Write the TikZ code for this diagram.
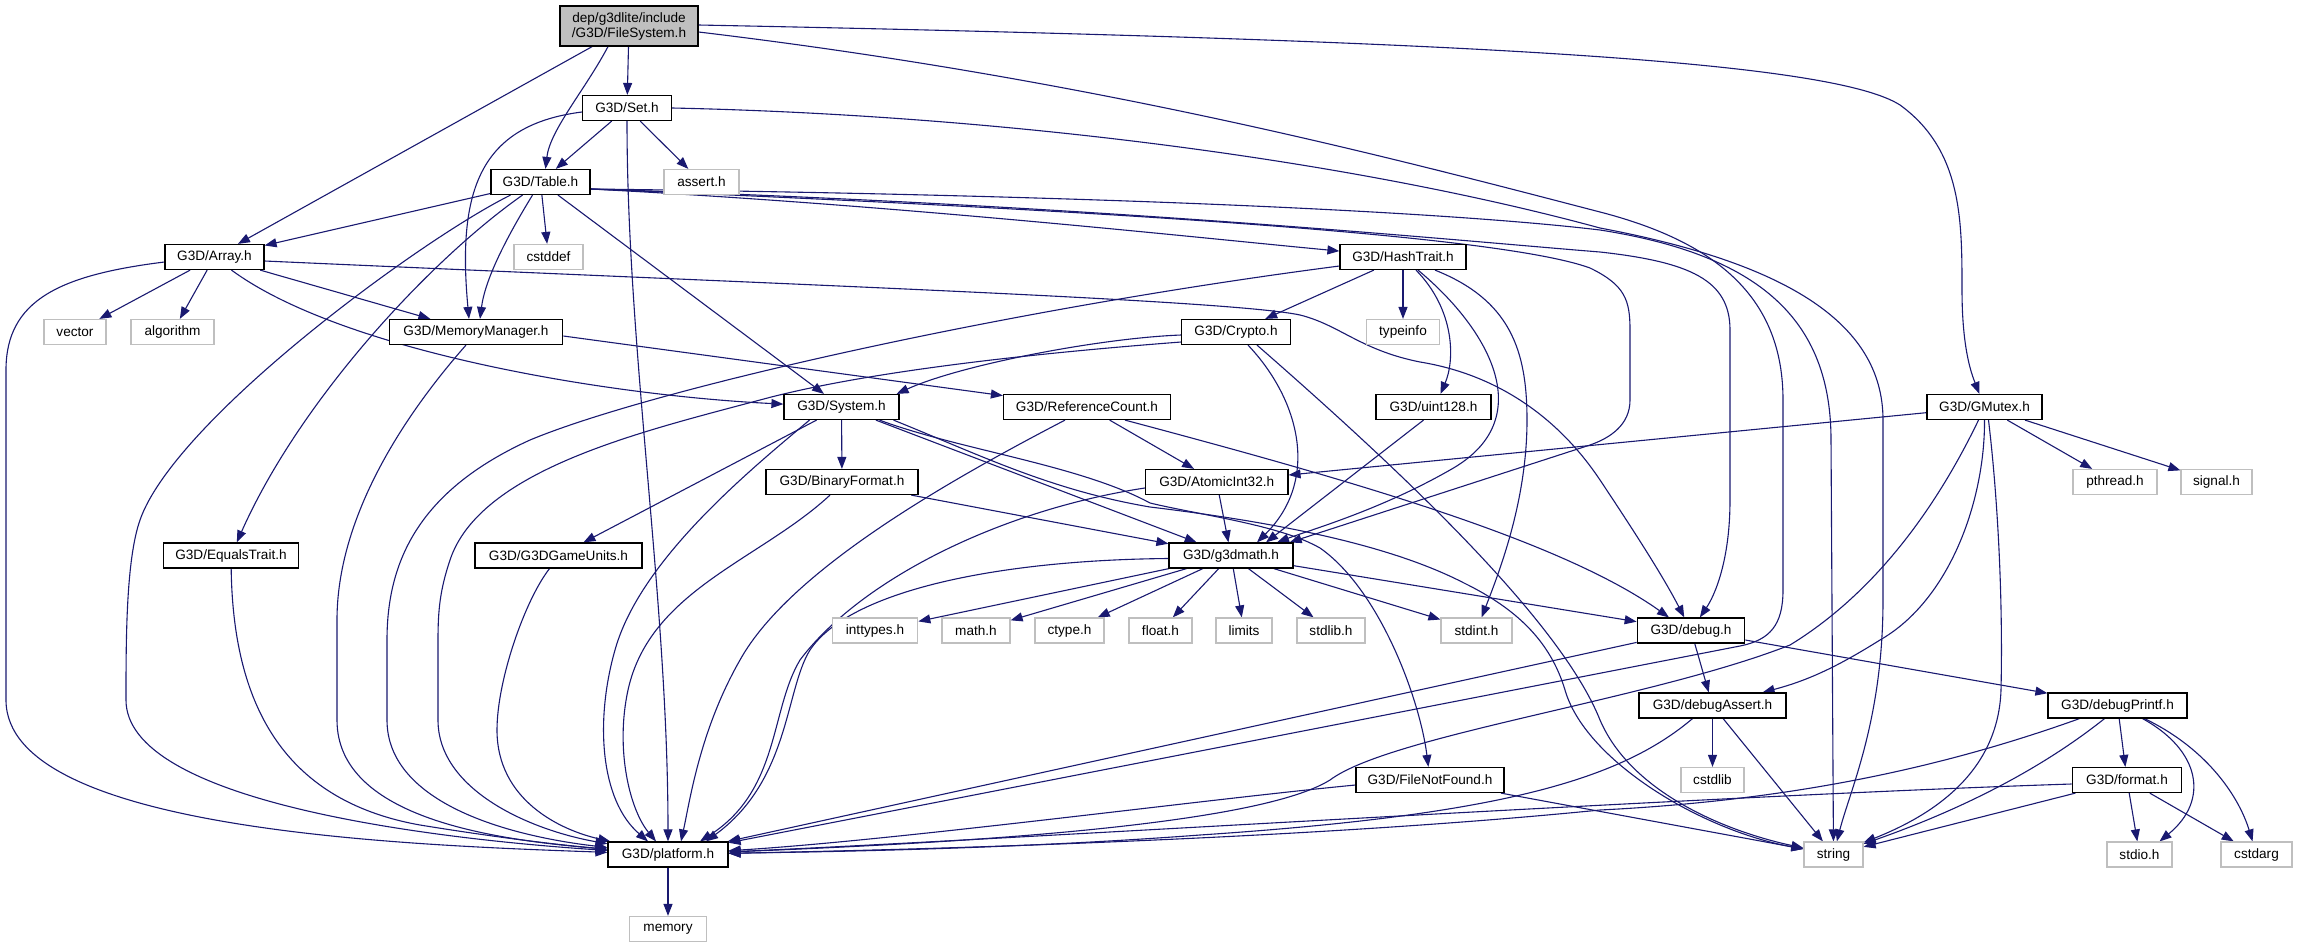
\documentclass[tikz,border=0pt]{standalone}
\usepackage{fontspec}
\setmainfont{Liberation Sans}
\usetikzlibrary{arrows.meta,backgrounds}
\definecolor{edgeblue}{HTML}{191970}
\definecolor{extgray}{HTML}{BFBFBF}
\definecolor{rootgray}{HTML}{BFBFBF}
\newcommand\gfont{\fontsize{13.6}{15}\selectfont}
\tikzset{
  doc/.style={draw=black, line width=1.2pt, fill=white, minimum height=25pt, inner sep=0pt, font=\gfont},
  ext/.style={draw=extgray, line width=1.2pt, fill=white, minimum height=25pt, inner sep=0pt, font=\gfont},
  e/.style={draw=edgeblue, line width=1.1pt, -{Triangle[length=12pt,width=9pt]}},
}
\begin{document}
\begin{tikzpicture}[x=1pt,y=-1pt]
\path[use as bounding box] (0,0) rectangle (2297,948);
% nodes
\node[doc, fill=rootgray, minimum height=40pt, align=center, minimum width=138pt] (fs) at (629,26) {dep/g3dlite/include\\/G3D/FileSystem.h};
\node[doc, minimum width=89pt] (set) at (627,108) {G3D/Set.h};
\node[ext, minimum width=75pt] (assert) at (701.5,182) {assert.h};
\node[doc, minimum width=99pt] (table) at (540.5,182) {G3D/Table.h};
\node[ext, minimum width=69pt] (cstddef) at (548.5,257) {cstddef};
\node[doc, minimum width=99pt] (array) at (214.5,257) {G3D/Array.h};
\node[ext, minimum width=62pt] (vector) at (75,332) {vector};
\node[ext, minimum width=83pt] (algorithm) at (172.5,332) {algorithm};
\node[doc, minimum width=173.5pt] (memmgr) at (476,332) {G3D/MemoryManager.h};
\node[doc, minimum width=126pt] (hash) at (1403,257) {G3D/HashTrait.h};
\node[doc, minimum width=108.5pt] (crypto) at (1236,332) {G3D/Crypto.h};
\node[ext, minimum width=73pt] (typeinfo) at (1403,332) {typeinfo};
\node[doc, minimum width=115pt] (uint) at (1433.5,407) {G3D/uint128.h};
\node[doc, minimum width=115pt] (system) at (841.5,407) {G3D/System.h};
\node[doc, minimum width=167pt] (refc) at (1087,407) {G3D/ReferenceCount.h};
\node[doc, minimum width=115pt] (gmutex) at (1984.5,407) {G3D/GMutex.h};
\node[ext, minimum width=84pt] (pthread) at (2115,482) {pthread.h};
\node[ext, minimum width=71pt] (signal) at (2216.5,482) {signal.h};
\node[doc, minimum width=142.5pt] (atomic) at (1216.7,482) {G3D/AtomicInt32.h};
\node[doc, minimum width=152pt] (binfmt) at (842,482) {G3D/BinaryFormat.h};
\node[doc, minimum width=167pt] (gameunits) at (558.5,555.5) {G3D/G3DGameUnits.h};
\node[doc, minimum width=135.5pt] (equals) at (231,555.5) {G3D/EqualsTrait.h};
\node[doc, minimum width=124pt] (g3dmath) at (1231,555.5) {G3D/g3dmath.h};
\node[ext, minimum width=85.5pt] (inttypes) at (875,630.5) {inttypes.h};
\node[ext, minimum width=68pt] (mathh) at (976,630.5) {math.h};
\node[ext, minimum width=69pt] (ctype) at (1069.5,630.5) {ctype.h};
\node[ext, minimum width=63pt] (floath) at (1160.5,630.5) {float.h};
\node[ext, minimum width=56pt] (limits) at (1244,630.5) {limits};
\node[ext, minimum width=68pt] (stdlibh) at (1331,630.5) {stdlib.h};
\node[ext, minimum width=71pt] (stdint) at (1476.5,630.5) {stdint.h};
\node[doc, minimum width=107.5pt] (debug) at (1691,630.5) {G3D/debug.h};
\node[doc, minimum width=147pt] (dassert) at (1712.5,705.5) {G3D/debugAssert.h};
\node[doc, minimum width=139pt] (dprintf) at (2117.5,705.5) {G3D/debugPrintf.h};
\node[ext, minimum width=63pt] (cstdlib) at (1712.5,780) {cstdlib};
\node[doc, minimum width=148pt] (filenf) at (1430,780) {G3D/FileNotFound.h};
\node[doc, minimum width=109.5pt] (format) at (2127,780) {G3D/format.h};
\node[doc, minimum width=120pt] (platform) at (668,854.5) {G3D/platform.h};
\node[ext, minimum width=76.5pt] (memory) at (668,929) {memory};
\node[ext, minimum width=59pt] (string) at (1833.5,854.5) {string};
\node[ext, minimum width=65pt] (stdio) at (2139.5,854.5) {stdio.h};
\node[ext, minimum width=71pt] (cstdarg) at (2256.5,854.5) {cstdarg};

\begin{scope}[on background layer]
% FileSystem.h
\draw[e] (fs) -- (array);
\draw[e] ([xshift=-21pt]fs.south) .. controls (585,90) and (550,130) .. ([xshift=5pt]table.north);
\draw[e] (fs) -- (set);
\draw[e] ([yshift=1pt]fs.east) .. controls (1450,40) and (1830,60) .. (1900,105) .. controls (1962,150) and (1962,220) .. (1962,290) .. controls (1962,350) and (1972,375) .. (gmutex);
\draw[e] ([yshift=-6pt]fs.east) .. controls (1100,80) and (1400,160) .. (1600,212) .. controls (1720,243) and (1783,300) .. (1783,400) -- (1783,590) .. controls (1783,625) and (1770,640) .. (1740,646) -- (platform);
% Set.h
\draw[e] (set) -- (table);
\draw[e] (set) -- (assert);
\draw[e] ([yshift=-4pt]set.west) .. controls (480,125) and (457,190) .. ([xshift=-7pt]memmgr.north);
\draw[e] (set.south) .. controls (627,350) and (668,600) .. (platform.north);
\draw[e] (set.east) .. controls (1000,115) and (1350,160) .. (1600,228) .. controls (1780,262) and (1883,320) .. (1883,420) -- (1883,600) .. controls (1883,720) and (1850,790) .. (string);
% Table.h
\draw[e] (table) -- (array);
\draw[e] ([xshift=-30pt]table.south) .. controls (420,240) and (175,420) .. (140,520) .. controls (126,560) and (126,640) .. (126,700) .. controls (126,800) and (420,838) .. (platform);
\draw[e] ([xshift=-18pt]table.south) .. controls (430,260) and (300,400) .. (equals);
\draw[e] ([xshift=-8pt]table.south) .. controls (505,240) and (485,280) .. ([xshift=4pt]memmgr.north);
\draw[e] (table) -- (cstddef);
\draw[e] (table) -- (system);
\draw[e] ([yshift=-7pt]table.east) .. controls (900,205) and (1200,238) .. (hash);
\draw[e] ([yshift=-7pt]table.east) .. controls (1100,195) and (1450,212) .. (1600,230) .. controls (1760,255) and (1831,320) .. (1831,440) -- (string);
\draw[e] ([yshift=-7pt]table.east) .. controls (1100,205) and (1450,240) .. (1600,252) .. controls (1690,262) and (1730,280) .. (1730,330) -- (1730,500) .. controls (1730,560) and (1715,595) .. (debug);
\draw[e] ([yshift=-7pt]table.east) .. controls (1100,210) and (1500,235) .. (1590,268) .. controls (1625,285) and (1630,300) .. (1630,330) -- (1630,400) .. controls (1630,425) and (1610,438) .. (1590,445) -- ([xshift=-4pt]g3dmath.north east);
% Array.h
\draw[e] (array) -- (vector);
\draw[e] (array) -- (algorithm);
\draw[e] (array) -- (memmgr);
\draw[e] ([xshift=17pt]array.south) .. controls (340,350) and (600,395) .. (system);
\draw[e] ([yshift=-5pt]array.west) .. controls (60,275) and (6,300) .. (6,370) -- (6,700) .. controls (6,830) and (400,845) .. (platform);
\draw[e] ([yshift=-4pt]array.east) .. controls (800,285) and (1230,300) .. (1300,315) .. controls (1340,325) and (1360,350) .. (1420,362) .. controls (1500,375) and (1560,420) .. (1600,480) .. controls (1640,540) and (1665,580) .. (debug);
% MemoryManager.h
\draw[e] ([xshift=-10pt]memmgr.south) .. controls (400,420) and (337,520) .. (337,620) -- (337,720) .. controls (337,820) and (500,840) .. (platform);
\draw[e] ([yshift=-4pt]memmgr.east) -- (refc);
% HashTrait.h
\draw[e] (hash) -- (crypto);
\draw[e] (hash) -- (typeinfo);
\draw[e] ([xshift=13pt]hash.south) .. controls (1455,310) and (1455,360) .. ([xshift=7pt]uint.north);
\draw[e] ([xshift=15pt]hash.south) .. controls (1490,330) and (1540,420) .. (1450,470) .. controls (1380,510) and (1310,530) .. ([xshift=46pt]g3dmath.north);
\draw[e] ([xshift=32pt]hash.south) .. controls (1510,300) and (1527,350) .. (1527,420) .. controls (1527,500) and (1500,570) .. (stdint);
\draw[e] ([yshift=-9pt]hash.west) .. controls (1000,310) and (650,390) .. (530,440) .. controls (420,490) and (387,560) .. (387,640) -- (387,720) .. controls (387,800) and (500,835) .. (platform);
% Crypto.h
\draw[e] ([yshift=-3pt]crypto.west) .. controls (1100,338) and (960,365) .. ([xshift=-3pt]system.north east);
\draw[e] ([yshift=-10pt]crypto.west) .. controls (1050,352) and (870,370) .. (760,400) .. controls (640,432) and (480,470) .. (450,560) .. controls (440,590) and (438,610) .. (438,640) -- (438,720) .. controls (438,790) and (530,830) .. (platform);
\draw[e] ([xshift=12pt]crypto.south) .. controls (1300,400) and (1320,480) .. ([xshift=26pt]g3dmath.north);
\draw[e] ([xshift=21pt]crypto.south) .. controls (1400,470) and (1560,620) .. (1600,720) .. controls (1630,790) and (1720,830) .. (string);
% uint128.h
\draw[e] ([xshift=-10pt]uint.south) -- ([xshift=35pt]g3dmath.north);
% System.h
\draw[e] (system) -- (gameunits);
\draw[e] ([xshift=-32pt]system.south) .. controls (750,470) and (640,560) .. (615,650) .. controls (595,720) and (600,800) .. ([xshift=-20pt]platform.north);
\draw[e] (system) -- (binfmt);
\draw[e] (system) -- (g3dmath);
\draw[e] ([xshift=38pt]system.south) .. controls (960,450) and (1080,465) .. (1150,503) .. controls (1200,515) and (1280,525) .. (1320,548) .. controls (1380,590) and (1420,700) .. (filenf);
\draw[e] ([xshift=52pt]system.south) .. controls (980,455) and (1050,490) .. (1150,507) .. controls (1300,525) and (1400,550) .. (1464,583) .. controls (1515,608) and (1550,640) .. (1565,690) .. controls (1585,760) and (1700,830) .. (string);
% BinaryFormat.h
\draw[e] ([xshift=-12pt]binfmt.south) .. controls (760,560) and (650,590) .. (628,690) .. controls (615,750) and (630,810) .. ([xshift=-12pt]platform.north);
\draw[e] (binfmt) -- (g3dmath);
% AtomicInt32.h
\draw[e] (atomic) -- (g3dmath);
\draw[e] ([yshift=-6pt]atomic.west) .. controls (1000,510) and (860,580) .. (800,660) .. controls (770,710) and (780,790) .. ([xshift=32pt]platform.north);
% ReferenceCount.h
\draw[e] ([xshift=-22pt]refc.south) .. controls (950,480) and (790,570) .. (740,660) .. controls (700,730) and (690,800) .. ([xshift=13pt]platform.north);
\draw[e] (refc) -- (atomic);
\draw[e] ([xshift=38pt]refc.south) .. controls (1350,480) and (1560,540) .. ([xshift=-22pt]debug.north);
% GMutex.h
\draw[e] (gmutex) -- (atomic);
\draw[e] (gmutex) -- (pthread);
\draw[e] (gmutex) -- (signal);
\draw[e] ([xshift=-6pt]gmutex.south) .. controls (1940,500) and (1880,590) .. (1790,645) .. controls (1650,700) and (1390,735) .. (1330,780) .. controls (1250,830) and (900,845) .. (platform);
\draw[e] (gmutex.south) .. controls (1985,500) and (1950,600) .. (1880,640) .. controls (1840,665) and (1810,680) .. (dassert);
\draw[e] ([xshift=4pt]gmutex.south) .. controls (1998,500) and (2003,600) .. (2001,690) .. controls (1998,780) and (1920,820) .. (string);
% g3dmath.h
\draw[e] (g3dmath) -- (inttypes);
\draw[e] (g3dmath) -- (mathh);
\draw[e] (g3dmath) -- (ctype);
\draw[e] (g3dmath) -- (floath);
\draw[e] (g3dmath) -- (limits);
\draw[e] (g3dmath) -- (stdlibh);
\draw[e] (g3dmath) -- (stdint);
\draw[e] (g3dmath) -- (debug);
\draw[e] ([yshift=-3pt]g3dmath.west) .. controls (1000,560) and (850,590) .. (810,650) .. controls (785,690) and (790,780) .. ([xshift=38pt]platform.north);
% debug.h
\draw[e] (debug) -- (platform);
\draw[e] (debug) -- (dassert);
\draw[e] (debug) -- (dprintf);
% debugAssert.h
\draw[e] ([xshift=-20pt]dassert.south) .. controls (1620,780) and (1500,815) .. (1200,835) .. controls (1000,850) and (800,852) .. (platform);
\draw[e] (dassert) -- (cstdlib);
\draw[e] (dassert) -- (string);
% debugPrintf.h
\draw[e] ([xshift=-38pt]dprintf.south) .. controls (1950,765) and (1800,800) .. (1600,810) .. controls (1300,840) and (900,850) .. (platform);
\draw[e] ([xshift=-13pt]dprintf.south) .. controls (2040,770) and (1960,810) .. (string);
\draw[e] (dprintf) -- (format);
\draw[e] ([xshift=25pt]dprintf.south) .. controls (2200,750) and (2210,800) .. ([xshift=20pt]stdio.north);
\draw[e] ([xshift=27pt]dprintf.south) .. controls (2210,750) and (2240,800) .. (cstdarg);
% format.h
\draw[e] ([yshift=-4pt]format.west) .. controls (1700,796) and (1000,840) .. (platform);
\draw[e] (format) -- (string);
\draw[e] (format) -- (stdio);
\draw[e] (format) -- (cstdarg);
% FileNotFound.h
\draw[e] ([yshift=-5pt]filenf.west) .. controls (1200,800) and (900,840) .. (platform);
\draw[e] (filenf) -- (string);
% EqualsTrait.h, G3DGameUnits.h
\draw[e] (equals) .. controls (233,700) and (280,800) .. (420,825) .. controls (500,838) and (560,845) .. (platform);
\draw[e] ([xshift=-9pt]gameunits.south) .. controls (525,600) and (497,680) .. (497,730) .. controls (497,800) and (560,830) .. (platform);
% platform.h
\draw[e] (platform) -- (memory);
\end{scope}
\end{tikzpicture}
\end{document}
